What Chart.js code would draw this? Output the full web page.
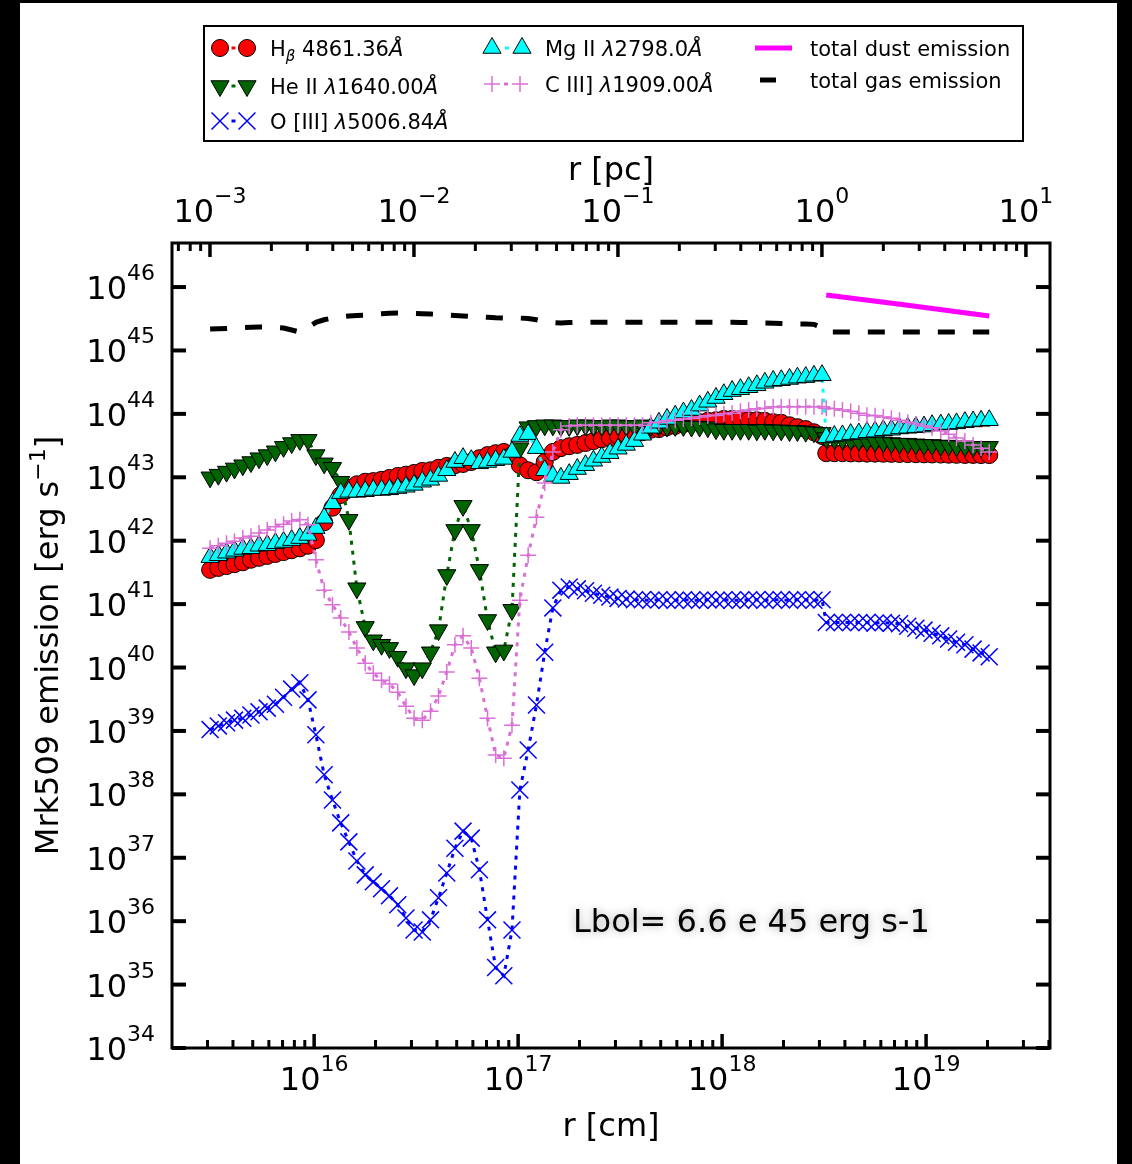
<!DOCTYPE html>
<html>
<head>
<meta charset="utf-8">
<script src="https://cdn.jsdelivr.net/npm/chart.js@4.4.1/dist/chart.umd.min.js"></script>
<style>
  html, body { margin: 0; padding: 0; background: #000; }
  canvas { display: block; }
</style>
</head>
<body>
<canvas id="emission" width="1132" height="1164"></canvas>
<script>
const PC_CM = 3.0857e18; // 1 pc in cm

// radial zones (cm): inner cloud out to 1 pc, then the outer cloud
const radius = [
  3.09e15, 3.39e15, 3.72e15, 4.07e15, 4.47e15, 4.90e15, 5.37e15, 5.89e15, 6.46e15, 7.08e15, 7.76e15, 8.51e15, 9.33e15,
  1.02e16, 1.12e16, 1.23e16, 1.35e16, 1.48e16, 1.62e16, 1.78e16, 1.95e16, 2.14e16, 2.34e16, 2.57e16, 2.82e16,
  3.09e16, 3.39e16, 3.72e16, 4.07e16, 4.47e16, 4.90e16, 5.37e16, 5.89e16, 6.46e16, 7.08e16, 7.76e16, 8.51e16, 9.33e16,
  1.02e17, 1.12e17, 1.23e17, 1.35e17, 1.48e17, 1.62e17, 1.78e17, 1.95e17, 2.14e17, 2.34e17, 2.57e17, 2.82e17,
  3.09e17, 3.39e17, 3.72e17, 4.07e17, 4.47e17, 4.90e17, 5.37e17, 5.89e17, 6.46e17, 7.08e17, 7.76e17, 8.51e17, 9.33e17,
  1.02e18, 1.12e18, 1.23e18, 1.35e18, 1.48e18, 1.62e18, 1.78e18, 1.95e18, 2.14e18, 2.34e18, 2.57e18, 2.82e18,
  3.09e18,
  3.24e18, 3.55e18, 3.89e18, 4.27e18, 4.68e18, 5.13e18, 5.62e18, 6.17e18, 6.76e18, 7.41e18,
  8.13e18, 8.91e18, 9.77e18, 1.07e19, 1.18e19, 1.29e19, 1.41e19, 1.55e19, 1.70e19, 1.86e19, 2.04e19
];

// line luminosities (erg/s) on the same zones
const hBeta = [
  3.47e41, 3.72e41, 3.98e41, 4.27e41, 4.57e41, 5.01e41, 5.37e41, 5.75e41, 6.17e41, 6.61e41,
  7.08e41, 7.59e41, 8.32e41, 1.02e42, 1.95e42, 3.31e42, 5.25e42, 6.76e42, 7.76e42, 8.51e42,
  8.71e42, 9.12e42, 9.77e42, 1.05e43, 1.10e43, 1.17e43, 1.26e43, 1.29e43, 1.41e43, 1.51e43,
  1.55e43, 1.62e43, 1.74e43, 2.00e43, 2.24e43, 2.40e43, 2.51e43, 2.24e43, 1.55e43, 1.29e43,
  1.20e43, 1.74e43, 2.51e43, 2.88e43, 3.09e43, 3.24e43, 3.47e43, 3.72e43, 3.98e43, 4.17e43,
  4.47e43, 4.68e43, 5.01e43, 5.13e43, 5.62e43, 5.75e43, 6.17e43, 6.46e43, 6.92e43, 7.24e43,
  7.41e43, 7.76e43, 7.94e43, 8.32e43, 8.32e43, 8.32e43, 7.94e43, 7.94e43, 7.76e43, 7.41e43,
  7.24e43, 6.61e43, 6.17e43, 5.75e43, 5.13e43, 4.47e43,
  2.40e43, 2.40e43, 2.40e43, 2.38e43, 2.38e43, 2.36e43, 2.36e43, 2.35e43, 2.34e43, 2.33e43,
  2.32e43, 2.31e43, 2.30e43, 2.29e43, 2.28e43, 2.27e43, 2.26e43, 2.25e43, 2.25e43, 2.24e43, 2.24e43
];

const heII = [
  1.00e43, 1.10e43, 1.23e43, 1.38e43, 1.55e43, 1.74e43, 2.00e43, 2.24e43, 2.57e43, 3.02e43,
  3.47e43, 3.89e43, 3.89e43, 2.24e43, 1.66e43, 1.41e43, 8.51e42, 2.14e42, 1.78e41, 4.37e40,
  2.69e40, 2.29e40, 2.04e40, 1.48e40, 9.77e39, 7.59e39, 9.77e39, 1.74e40, 3.89e40, 2.88e41,
  1.48e42, 3.55e42, 1.48e42, 3.47e41, 5.62e40, 1.74e40, 1.86e40, 8.13e40, 2.88e43, 6.17e43,
  6.46e43, 6.61e43, 6.61e43, 6.46e43, 6.46e43, 6.61e43, 6.61e43, 6.46e43, 6.46e43, 6.61e43,
  6.61e43, 6.46e43, 6.46e43, 6.61e43, 6.46e43, 6.46e43, 6.31e43, 6.46e43, 6.46e43, 6.31e43,
  6.31e43, 6.17e43, 5.75e43, 5.62e43, 5.62e43, 5.62e43, 5.62e43, 5.50e43, 5.62e43, 5.50e43,
  5.50e43, 5.37e43, 5.37e43, 5.25e43, 5.13e43, 5.01e43,
  4.17e43, 4.07e43, 3.98e43, 3.89e43, 3.80e43, 3.72e43, 3.63e43, 3.55e43, 3.47e43, 3.39e43,
  3.39e43, 3.31e43, 3.24e43, 3.24e43, 3.16e43, 3.16e43, 3.09e43, 3.09e43, 3.02e43, 3.02e43, 3.02e43
];

const oIII = [
  1.05e39, 1.20e39, 1.35e39, 1.48e39, 1.58e39, 1.78e39, 2.00e39, 2.29e39, 2.63e39, 3.39e39,
  4.57e39, 5.75e39, 3.09e39, 8.71e38, 2.04e38, 8.13e37, 3.55e37, 1.78e37, 8.91e36, 5.37e36,
  4.17e36, 3.24e36, 2.51e36, 1.82e36, 1.12e36, 7.24e35, 6.76e35, 1.05e36, 2.34e36, 5.75e36,
  1.41e37, 2.63e37, 2.04e37, 6.46e36, 1.05e36, 1.86e35, 1.38e35, 7.24e35, 1.17e38, 5.01e38,
  2.57e39, 1.74e40, 8.71e40, 1.66e41, 1.86e41, 1.74e41, 1.62e41, 1.48e41, 1.38e41, 1.29e41,
  1.23e41, 1.20e41, 1.17e41, 1.17e41, 1.15e41, 1.17e41, 1.15e41, 1.15e41, 1.17e41, 1.15e41,
  1.15e41, 1.17e41, 1.15e41, 1.17e41, 1.15e41, 1.15e41, 1.17e41, 1.17e41, 1.15e41, 1.17e41,
  1.17e41, 1.15e41, 1.17e41, 1.17e41, 1.15e41, 1.17e41,
  5.13e40, 5.13e40, 5.13e40, 5.13e40, 5.13e40, 5.13e40, 5.01e40, 5.13e40, 5.01e40, 4.90e40,
  4.47e40, 4.17e40, 3.89e40, 3.47e40, 3.16e40, 2.82e40, 2.51e40, 2.29e40, 1.95e40, 1.70e40, 1.48e40
];

const mgII = [
  5.50e41, 5.89e41, 6.46e41, 6.92e41, 7.41e41, 7.59e41, 8.32e41, 8.51e41, 9.12e41, 9.55e41,
  1.02e42, 1.10e42, 1.23e42, 1.58e42, 2.29e42, 3.89e42, 5.62e42, 5.89e42, 5.89e42, 6.03e42,
  6.31e42, 6.31e42, 6.46e42, 6.76e42, 7.08e42, 7.59e42, 8.51e42, 9.12e42, 1.05e43, 1.29e43,
  1.74e43, 2.00e43, 1.86e43, 1.66e43, 1.74e43, 1.86e43, 1.95e43, 2.51e43, 4.47e43, 4.79e43,
  2.88e43, 1.29e43, 1.05e43, 9.77e42, 1.12e43, 1.35e43, 1.55e43, 1.82e43, 2.09e43, 2.40e43,
  2.82e43, 3.24e43, 3.72e43, 4.68e43, 6.03e43, 7.24e43, 8.32e43, 9.33e43, 1.05e44, 1.15e44,
  1.35e44, 1.55e44, 1.78e44, 2.04e44, 2.29e44, 2.45e44, 2.63e44, 2.82e44, 3.09e44, 3.31e44,
  3.39e44, 3.55e44, 3.72e44, 3.80e44, 3.98e44, 4.07e44,
  4.27e43, 4.47e43, 4.57e43, 4.79e43, 4.90e43, 5.13e43, 5.25e43, 5.50e43, 5.62e43, 5.89e43,
  6.03e43, 6.17e43, 6.31e43, 6.61e43, 6.76e43, 6.92e43, 7.08e43, 7.41e43, 7.59e43, 7.76e43, 7.94e43
];

const cIII = [
  7.59e41, 8.32e41, 9.12e41, 9.77e41, 1.10e42, 1.17e42, 1.32e42, 1.48e42, 1.66e42, 1.82e42,
  2.04e42, 2.14e42, 1.78e42, 5.01e41, 1.66e41, 9.77e40, 6.03e40, 3.63e40, 2.04e40, 1.17e40,
  8.13e39, 6.31e39, 5.50e39, 4.07e39, 2.45e39, 1.58e39, 1.48e39, 2.04e39, 3.55e39, 8.51e39,
  2.29e40, 3.16e40, 2.04e40, 6.76e39, 1.58e39, 4.17e38, 3.72e38, 1.23e39, 1.15e41, 5.89e41,
  2.34e42, 8.13e42, 2.51e43, 5.62e43, 6.46e43, 6.61e43, 6.61e43, 6.61e43, 6.61e43, 6.61e43,
  6.61e43, 6.61e43, 6.61e43, 6.61e43, 7.24e43, 7.41e43, 7.76e43, 7.94e43, 8.32e43, 8.51e43,
  8.91e43, 9.33e43, 9.55e43, 1.00e44, 1.02e44, 1.10e44, 1.15e44, 1.20e44, 1.23e44, 1.29e44,
  1.29e44, 1.29e44, 1.29e44, 1.29e44, 1.29e44, 1.29e44,
  1.23e44, 1.20e44, 1.15e44, 1.10e44, 1.02e44, 9.55e43, 9.33e43, 8.91e43, 8.51e43, 7.94e43,
  7.41e43, 6.92e43, 6.46e43, 6.03e43, 5.37e43, 4.79e43, 4.17e43, 3.72e43, 3.24e43, 2.88e43, 2.51e43
];

const gasTotal = [
  2.18e45, 2.20e45, 2.22e45, 2.25e45, 2.30e45, 2.33e45, 2.34e45, 2.33e45, 2.30e45, 2.26e45,
  2.10e45, 1.95e45, 2.30e45, 2.78e45, 3.05e45, 3.25e45, 3.40e45, 3.50e45, 3.57e45, 3.62e45,
  3.70e45, 3.78e45, 3.85e45, 3.89e45, 3.87e45, 3.83e45, 3.80e45, 3.76e45, 3.70e45, 3.62e45,
  3.55e45, 3.50e45, 3.45e45, 3.40e45, 3.33e45, 3.27e45, 3.24e45, 3.24e45, 3.24e45, 3.20e45,
  3.05e45, 2.85e45, 2.75e45, 2.71e45, 2.75e45, 2.78e45, 2.78e45, 2.78e45, 2.78e45, 2.78e45,
  2.78e45, 2.78e45, 2.78e45, 2.78e45, 2.78e45, 2.78e45, 2.78e45, 2.78e45, 2.78e45, 2.78e45,
  2.78e45, 2.78e45, 2.78e45, 2.78e45, 2.78e45, 2.76e45, 2.75e45, 2.72e45, 2.70e45, 2.68e45,
  2.66e45, 2.64e45, 2.62e45, 2.61e45, 2.58e45, 2.30e45,
  1.95e45, 1.95e45, 1.95e45, 1.95e45, 1.95e45, 1.95e45, 1.95e45, 1.95e45, 1.95e45, 1.95e45,
  1.95e45, 1.95e45, 1.95e45, 1.95e45, 1.95e45, 1.95e45, 1.95e45, 1.95e45, 1.95e45, 1.95e45, 1.95e45
];

// dust only in the outer cloud
const dustRadius = [3.24e18, 8.13e18, 2.04e19];
const dustTotal = [7.48e45, 5.15e45, 3.49e45];

const lumDecades = [34, 35, 36, 37, 38, 39, 40, 41, 42, 43, 44, 45, 46];
const cmDecades = [16, 17, 18, 19];
const pcDecades = [-3, -2, -1, 0, 1];

const FONT = '"DejaVu Sans", "Liberation Sans", sans-serif';
const F_BIG = '32px ' + FONT;
const F_SUP = '22px ' + FONT;
const F_LEG = '21px ' + FONT;
const F_LEG_I = 'italic 21px ' + FONT;
const F_LEG_SUB = 'italic 15px ' + FONT;

const dotted = [4, 6];

function pairs(xs, ys) {
  return xs.map((x, i) => ({ x: x, y: ys[i] }));
}

// text made of pieces with their own font and vertical shift
function runsWidth(ctx, runs) {
  let w = 0;
  runs.forEach(r => { ctx.font = r.font; w += ctx.measureText(r.text).width; });
  return w;
}
function drawRuns(ctx, x, y, runs) {
  let cx = x;
  runs.forEach(r => {
    ctx.font = r.font;
    ctx.fillText(r.text, cx, y + (r.dy || 0));
    cx += ctx.measureText(r.text).width;
  });
}
function powRuns(exp) {
  const e = exp < 0 ? '\u2212' + (-exp) : String(exp);
  return [{ text: '10', font: F_BIG }, { text: e, font: F_SUP, dy: -19 }];
}

function marker(ctx, m, x, y) {
  ctx.save();
  ctx.fillStyle = m.fill;
  ctx.strokeStyle = m.stroke;
  ctx.lineWidth = m.bw;
  Chart.helpers.drawPoint(ctx, { pointStyle: m.style, rotation: m.rot || 0, radius: m.r, borderWidth: m.bw }, x, y);
  ctx.restore();
}

const mHb = { style: 'circle', r: 8.5, fill: '#ff0000', stroke: '#000', bw: 1 };
const mHe = { style: 'triangle', rot: 180, r: 10.5, fill: '#006400', stroke: '#000', bw: 1 };
const mO3 = { style: 'crossRot', r: 12, fill: '#0000ff', stroke: '#0000ff', bw: 1.5 };
const mMg = { style: 'triangle', r: 10.5, fill: '#00ffff', stroke: '#000', bw: 1 };
const mC3 = { style: 'cross', r: 8, fill: '#da70d6', stroke: '#da70d6', bw: 1.5 };

const framePlugin = {
  id: 'frame',
  beforeDraw(chart) {
    const ctx = chart.ctx;
    ctx.save();
    ctx.fillStyle = '#000';
    ctx.fillRect(0, 0, chart.width, chart.height);
    ctx.fillStyle = '#fff';
    ctx.fillRect(20, 3, 1097, chart.height - 3);
    ctx.restore();
  },
  afterDraw(chart) {
    const ctx = chart.ctx;
    const a = chart.chartArea;
    const xs = chart.scales.x, ys = chart.scales.y;
    ctx.save();
    ctx.strokeStyle = '#000';
    ctx.fillStyle = '#000';
    ctx.lineCap = 'butt';

    ctx.lineWidth = 3;
    ctx.strokeRect(a.left, a.top, a.right - a.left, a.bottom - a.top);

    const seg = (x1, y1, x2, y2, w) => {
      ctx.lineWidth = w;
      ctx.beginPath();
      ctx.moveTo(x1, y1);
      ctx.lineTo(x2, y2);
      ctx.stroke();
    };

    // luminosity decades, both sides
    ctx.textBaseline = 'alphabetic';
    lumDecades.forEach(e => {
      const py = ys.getPixelForValue(Math.pow(10, e));
      seg(a.left, py, a.left + 14, py, 4);
      seg(a.right - 14, py, a.right, py, 4);
      const runs = powRuns(e);
      drawRuns(ctx, 155 - runsWidth(ctx, runs), py + 12, runs);
    });

    // r [cm] ticks along the bottom
    for (let e = 15; e <= 19; e++) {
      for (let m = 1; m <= 9; m++) {
        const v = m * Math.pow(10, e);
        if (v < xs.min || v > xs.max) continue;
        const px = xs.getPixelForValue(v);
        seg(px, a.bottom, px, a.bottom - (m === 1 ? 14 : 8), m === 1 ? 3.5 : 3);
      }
    }
    cmDecades.forEach(e => {
      const px = xs.getPixelForValue(Math.pow(10, e));
      const runs = powRuns(e);
      drawRuns(ctx, px - runsWidth(ctx, runs) / 2, a.bottom + 42, runs);
    });

    // r [pc] ticks along the top
    for (let e = -4; e <= 1; e++) {
      for (let m = 1; m <= 9; m++) {
        const v = m * Math.pow(10, e) * PC_CM;
        if (v < xs.min || v > xs.max) continue;
        const px = xs.getPixelForValue(v);
        seg(px, a.top, px, a.top + (m === 1 ? 14 : 8), m === 1 ? 3.5 : 3);
      }
    }
    pcDecades.forEach(e => {
      const px = xs.getPixelForValue(Math.pow(10, e) * PC_CM);
      const runs = powRuns(e);
      drawRuns(ctx, px - runsWidth(ctx, runs) / 2, a.top - 21, runs);
    });

    // axis titles
    const midX = (a.left + a.right) / 2;
    ctx.font = F_BIG;
    ctx.textAlign = 'center';
    ctx.fillText('r [cm]', midX, 1136);
    ctx.fillText('r [pc]', midX, 180);
    ctx.textAlign = 'left';

    ctx.save();
    ctx.translate(58, (a.top + a.bottom) / 2);
    ctx.rotate(-Math.PI / 2);
    const yTitle = [
      { text: 'Mrk509 emission [erg s', font: F_BIG },
      { text: '\u22121', font: F_SUP, dy: -13 },
      { text: ']', font: F_BIG }
    ];
    drawRuns(ctx, -runsWidth(ctx, yTitle) / 2, 0, yTitle);
    ctx.restore();

    // bolometric luminosity note
    ctx.save();
    ctx.font = F_BIG;
    ctx.shadowColor = 'rgba(0,0,0,0.35)';
    ctx.shadowBlur = 10;
    ctx.fillText('Lbol= 6.6 e 45 erg s-1', 573, 932);
    ctx.restore();

    // legend
    ctx.fillStyle = '#fff';
    ctx.fillRect(204, 26, 819, 115);
    ctx.lineWidth = 2;
    ctx.strokeRect(204, 26, 819, 115);
    ctx.fillStyle = '#000';

    const pair = (m, lineColor, x1, x2, y) => {
      ctx.strokeStyle = lineColor;
      seg((x1 + x2) / 2 - 2, y, (x1 + x2) / 2 + 2, y, 3);
      marker(ctx, m, x1, y);
      marker(ctx, m, x2, y);
    };
    const lam = (name, wave) => [
      { text: name + ' ', font: F_LEG },
      { text: '\u03bb', font: F_LEG_I },
      { text: wave, font: F_LEG },
      { text: '\u00c5', font: F_LEG_I }
    ];

    pair(mHb, '#ff0000', 220, 247, 48);
    drawRuns(ctx, 270, 56, [
      { text: 'H', font: F_LEG },
      { text: '\u03b2', font: F_LEG_SUB, dy: 5 },
      { text: ' 4861.36', font: F_LEG },
      { text: '\u00c5', font: F_LEG_I }
    ]);
    pair(mHe, '#006400', 220, 247, 86);
    drawRuns(ctx, 270, 94, lam('He II', '1640.00'));
    pair(mO3, '#0000ff', 220, 247, 121);
    drawRuns(ctx, 270, 129, lam('O [III]', '5006.84'));

    pair(mMg, '#00ffff', 492, 522, 48);
    drawRuns(ctx, 545, 56, lam('Mg II', '2798.0'));
    pair(mC3, '#da70d6', 492, 520, 84);
    drawRuns(ctx, 545, 92, lam('C III]', '1909.00'));

    ctx.strokeStyle = '#ff00ff';
    seg(755, 48, 792, 48, 5);
    ctx.strokeStyle = '#000';
    seg(760, 80, 776, 80, 5);
    drawRuns(ctx, 810, 56, [{ text: 'total dust emission', font: F_LEG }]);
    drawRuns(ctx, 810, 88, [{ text: 'total gas emission', font: F_LEG }]);

    ctx.restore();
  }
};

function lineSet(label, ys, m, lineColor, order) {
  return {
    label: label,
    data: pairs(radius, ys),
    order: order,
    borderColor: lineColor,
    borderWidth: 3,
    borderDash: dotted,
    pointStyle: m.style,
    pointRotation: m.rot || 0,
    pointRadius: m.r,
    pointHoverRadius: m.r,
    pointBackgroundColor: m.fill,
    pointBorderColor: m.stroke,
    pointBorderWidth: m.bw,
    tension: 0,
    fill: false
  };
}

const chart = new Chart(document.getElementById('emission').getContext('2d'), {
  type: 'line',
  data: {
    datasets: [
      lineSet('Hbeta 4861.36', hBeta, mHb, '#ff0000', 7),
      lineSet('He II 1640.00', heII, mHe, '#006400', 6),
      lineSet('O [III] 5006.84', oIII, mO3, '#0000ff', 5),
      lineSet('Mg II 2798.0', mgII, mMg, '#00ffff', 4),
      lineSet('C III] 1909.00', cIII, mC3, '#da70d6', 3),
      {
        label: 'total dust emission',
        data: pairs(dustRadius, dustTotal),
        order: 2,
        borderColor: '#ff00ff',
        borderWidth: 5,
        pointRadius: 0,
        tension: 0,
        fill: false
      },
      {
        label: 'total gas emission',
        data: pairs(radius, gasTotal),
        order: 1,
        borderColor: '#000000',
        borderWidth: 5,
        borderDash: [17, 18],
        pointRadius: 0,
        tension: 0,
        fill: false
      }
    ]
  },
  options: {
    responsive: false,
    animation: false,
    devicePixelRatio: 1,
    layout: { padding: { left: 172, top: 243, right: 82, bottom: 116 } },
    plugins: {
      legend: { display: false },
      tooltip: { enabled: false }
    },
    scales: {
      x: { type: 'logarithmic', min: 2.01e15, max: 4.05e19, display: false },
      y: { type: 'logarithmic', min: 1e34, max: 4.95e46, display: false }
    }
  },
  plugins: [framePlugin]
});
</script>
</body>
</html>
